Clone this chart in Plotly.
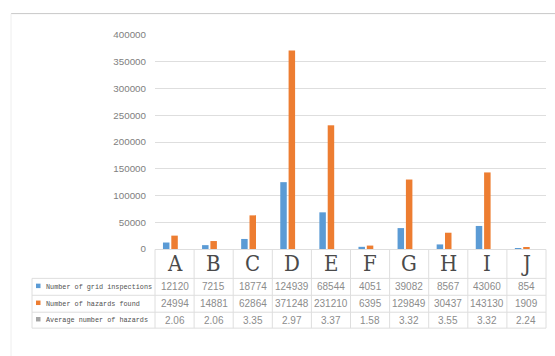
import plotly.graph_objects as go

# Data
categories = ["A", "B", "C", "D", "E", "F", "G", "H", "I", "J"]
grid_inspections = [12120, 7215, 18774, 124939, 68544, 4051, 39082, 8567, 43060, 854]
hazards_found = [24994, 14881, 62864, 371248, 231210, 6395, 129849, 30437, 143130, 1909]
avg_hazards = [2.06, 2.06, 3.35, 2.97, 3.37, 1.58, 3.32, 3.55, 3.32, 2.24]
avg_labels = ["2.06", "2.06", "3.35", "2.97", "3.37", "1.58", "3.32", "3.55", "3.32", "2.24"]

series_names = ["Number of grid inspections", "Number of hazards found", "Average number of hazards"]
series_colors = ["#5b9bd5", "#ed7d31", "#a5a5a5"]
y_ticks = [0, 50000, 100000, 150000, 200000, 250000, 300000, 350000, 400000]

# Canvas / plot-area geometry in pixels
W, H = 555, 356
L, R = 155, 546
T, B = 34.5, 249.5
PW, PH = R - L, B - T


def px(x):
    return (x - L) / PW


def py(y):
    return (B - y) / PH


fig = go.Figure()
for name, vals, col in zip(series_names, [grid_inspections, hazards_found, avg_hazards], series_colors):
    fig.add_trace(go.Bar(x=categories, y=vals, name=name, marker=dict(color=col, line=dict(width=0))))

grid_col = "#dedede"
shapes = []
annotations = []

# outer chart frame
shapes.append(dict(type="line", xref="paper", yref="paper", x0=px(11), x1=px(560), y0=py(13), y1=py(13),
                   line=dict(color="#c8c8c8", width=1)))
shapes.append(dict(type="line", xref="paper", yref="paper", x0=px(11), x1=px(11), y0=py(13), y1=py(360),
                   line=dict(color="#eeeeee", width=1)))

# data table grid
row_edges = [279, 296, 313, 329]
for ry in row_edges:
    shapes.append(dict(type="line", xref="paper", yref="paper", x0=px(32), x1=1, y0=py(ry), y1=py(ry),
                       line=dict(color=grid_col, width=1)))
n = len(categories)
for i in range(n + 1):
    shapes.append(dict(type="line", xref="paper", yref="paper", x0=i / n, x1=i / n, y0=py(250), y1=py(329),
                       line=dict(color=grid_col, width=1)))
shapes.append(dict(type="line", xref="paper", yref="paper", x0=px(32), x1=px(32), y0=py(279), y1=py(329),
                   line=dict(color=grid_col, width=1)))

# category letters
for c in categories:
    annotations.append(dict(x=c, xref="x", y=py(264.5), yref="paper", text=c, showarrow=False,
                            xanchor="center", yanchor="middle",
                            font=dict(family="DejaVu Serif Condensed, Liberation Serif, serif",
                                      size=22, color="#4a4a4a")))

# value rows
row_centers = [287.5, 304.5, 321]
row_texts = [[str(v) for v in grid_inspections], [str(v) for v in hazards_found], avg_labels]
for rc, texts, name, col in zip(row_centers, row_texts, series_names, series_colors):
    for c, t in zip(categories, texts):
        annotations.append(dict(x=c, xref="x", y=py(rc), yref="paper", text=t, showarrow=False,
                                xanchor="center", yanchor="middle",
                                font=dict(family="Liberation Sans, Arial, sans-serif", size=10, color="#8c8c8c")))
    shapes.append(dict(type="rect", xref="paper", yref="paper", x0=px(36), x1=px(40.5),
                       y0=py(rc - 3.2), y1=py(rc + 1.3), fillcolor=col, line=dict(width=0)))
    annotations.append(dict(x=px(44), xref="paper", y=py(rc), yref="paper", text=name, showarrow=False,
                            xanchor="left", yanchor="middle",
                            font=dict(family="Liberation Mono, monospace", size=6.8, color="#505050")))

fig.update_layout(
    width=W, height=H,
    margin=dict(l=L, r=W - R, t=T, b=H - B, pad=0),
    paper_bgcolor="white", plot_bgcolor="white",
    barmode="group", bargap=0.36, bargroupgap=0.22,
    showlegend=False,
    shapes=shapes, annotations=annotations,
    xaxis=dict(showticklabels=False, ticks="", showgrid=False, zeroline=False,
               showline=True, linecolor=grid_col, linewidth=1, fixedrange=True),
    yaxis=dict(range=[0, 400000], tickvals=y_ticks, ticktext=[str(v) for v in y_ticks],
               showgrid=True, gridcolor=grid_col, gridwidth=1, zeroline=False, showline=False,
               ticks="", ticklabelstandoff=8,
               tickfont=dict(family="Liberation Sans, Arial, sans-serif", size=9.8, color="#808080")),
)

fig.write_html("out.html")
